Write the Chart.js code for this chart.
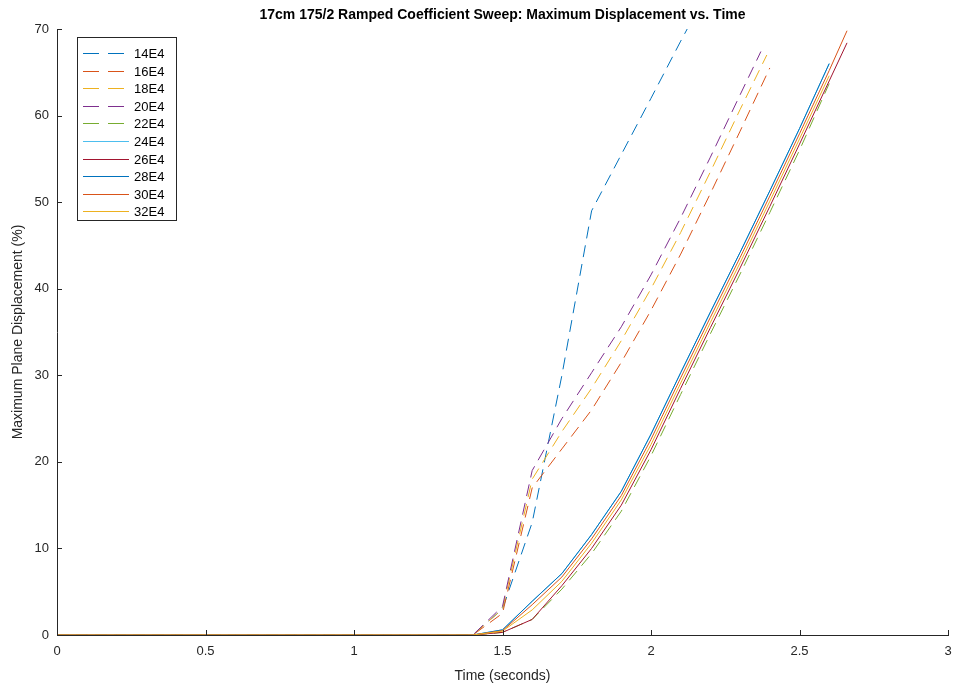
<!DOCTYPE html>
<html>
<head>
<meta charset="utf-8">
<script src="https://cdn.jsdelivr.net/npm/chart.js@4.4.1/dist/chart.umd.min.js"></script>
<style>
  html, body { margin: 0; padding: 0; background: #fff; }
  #wrap { width: 955px; height: 685px; }
</style>
</head>
<body>
<div id="wrap"><canvas id="sweep"></canvas></div>
<script>
// Time grid (seconds) and series labels
const times = [0, 0.1, 0.2, 0.3, 0.4, 0.5, 0.6, 0.7, 0.8, 0.9, 1.0, 1.1, 1.2, 1.3, 1.4,
  1.5, 1.6, 1.7, 1.8, 1.9, 2.0, 2.1, 2.2, 2.3, 2.4, 2.5, 2.6];
const labels = ['14E4', '16E4', '18E4', '20E4', '22E4', '24E4', '26E4', '28E4', '30E4', '32E4'];
const zeros = [0, 0, 0, 0, 0, 0, 0, 0, 0, 0, 0, 0, 0, 0, 0];

// Max plane displacement (%) at times[i]; last value sits at endTimes[k]
const d14 = zeros.concat([3, 13, 30, 49, 55.5, 62, 68.6, 75]);
const d16 = zeros.concat([2.5, 17, 21.5, 26, 31.5, 37.5, 44, 51, 58.2, 65.5]);
const d18 = zeros.concat([3, 18, 23.5, 28.5, 34, 40, 46.5, 53.5, 60.7, 67]);
const d20 = zeros.concat([3.3, 19, 25, 30.3, 35.6, 41.6, 48.2, 55.2, 62.4, 67.4]);
const d22 = zeros.concat([0.3, 1.8, 5.3, 9.4, 14.3, 20.7, 27.8, 34.8, 41.7, 48.8, 56.0, 63.7]);
const d24 = zeros.concat([0.6, 3.9, 7.1, 11.6, 16.6, 23.2, 30.3, 37.3, 44.2, 51.3, 58.5, 66.0]);
const d26 = zeros.concat([0.3, 1.8, 5.7, 10.0, 15.0, 21.4, 28.5, 35.5, 42.4, 49.5, 56.7, 64.0, 68.4]);
const d28 = zeros.concat([0.6, 3.9, 7.1, 11.6, 16.6, 23.2, 30.3, 37.3, 44.2, 51.3, 58.5, 66.0]);
const d30 = zeros.concat([0.5, 3.5, 6.7, 11.1, 16.1, 22.6, 29.7, 36.7, 43.6, 50.7, 57.9, 65.2, 69.8]);
const d32 = zeros.concat([0.45, 2.9, 6.2, 10.6, 15.6, 22.0, 29.1, 36.1, 43.0, 50.1, 57.3, 64.6]);
const endTimes = [2.2, 2.4, 2.39, 2.37, 2.6, 2.6, 2.66, 2.6, 2.66, 2.6];

const yTicks = [0, 10, 20, 30, 40, 50, 60, 70];
const xTicks = [0, 0.5, 1, 1.5, 2, 2.5, 3];

// MATLAB default colour order
const colors = ['#0072BD', '#D95319', '#EDB120', '#7E2F8E', '#77AC30',
  '#4DBEEE', '#A2142F', '#0072BD', '#D95319', '#EDB120'];
const dashed = [true, true, true, true, true, false, false, false, false, false];
const series = [d14, d16, d18, d20, d22, d24, d26, d28, d30, d32];

const FONT = "'Liberation Sans', Arial, Helvetica, sans-serif";
const INK = '#262626';
const DASH = [12, 7];

const datasets = series.map((vals, k) => ({
  label: labels[k],
  data: vals.map((v, i) => ({ x: i < vals.length - 1 ? times[i] : endTimes[k], y: v })),
  borderColor: colors[k],
  borderWidth: 1,
  borderDash: dashed[k] ? DASH : [],
  pointRadius: 0,
  tension: 0,
  fill: false,
  order: labels.length - k, // later series drawn on top, like MATLAB
}));

// Title, inward tick marks and the boxed legend
const matlabDecor = {
  id: 'matlabDecor',
  afterDraw(chart) {
    const { ctx, chartArea: a, scales } = chart;
    ctx.save();

    ctx.fillStyle = '#000';
    ctx.font = `bold 14px ${FONT}`;
    ctx.textAlign = 'center';
    ctx.textBaseline = 'middle';
    ctx.fillText('17cm 175/2 Ramped Coefficient Sweep: Maximum Displacement vs. Time', (a.left + a.right) / 2, 15);

    ctx.strokeStyle = INK;
    ctx.lineWidth = 1;
    ctx.beginPath();
    for (const t of yTicks) {
      const y = Math.round(scales.y.getPixelForValue(t)) + 0.5;
      ctx.moveTo(a.left, y);
      ctx.lineTo(a.left + 5, y);
    }
    for (const t of xTicks) {
      const x = Math.round(scales.x.getPixelForValue(t)) + 0.5;
      ctx.moveTo(x, a.bottom);
      ctx.lineTo(x, a.bottom - 5);
    }
    ctx.stroke();

    // legend box
    const bx = 77.5, by = 37.5, bw = 99, bh = 183, row = 17.6;
    ctx.fillStyle = '#fff';
    ctx.fillRect(bx, by, bw, bh);
    ctx.strokeStyle = '#262626';
    ctx.strokeRect(bx, by, bw, bh);
    ctx.font = `13px ${FONT}`;
    ctx.textAlign = 'left';
    labels.forEach((lab, k) => {
      const y = Math.round(by + 15.5 + k * row) + 0.5;
      ctx.strokeStyle = colors[k];
      ctx.setLineDash(dashed[k] ? [16, 9] : []);
      ctx.beginPath();
      ctx.moveTo(83, y);
      ctx.lineTo(129, y);
      ctx.stroke();
      ctx.setLineDash([]);
      ctx.fillStyle = '#000';
      ctx.fillText(lab, 134, y + 0.5);
    });
    ctx.restore();
  },
};

new Chart(document.getElementById('sweep'), {
  type: 'line',
  data: { datasets },
  options: {
    responsive: true,
    maintainAspectRatio: false,
    animation: false,
    events: [],
    layout: { padding: { top: 29, right: 7, left: 0, bottom: 0 } },
    plugins: {
      legend: { display: false },
      tooltip: { enabled: false },
      title: { display: false },
    },
    scales: {
      x: {
        type: 'linear',
        min: 0,
        max: 3,
        afterFit: (s) => { s.height = 50; s.paddingLeft = 0; s.paddingRight = 0; },
        afterBuildTicks: (s) => { s.ticks = xTicks.map(v => ({ value: v })); },
        grid: { drawOnChartArea: false, drawTicks: false },
        border: { display: true, color: INK, width: 1 },
        ticks: {
          color: INK,
          font: { family: FONT, size: 13 },
          padding: 9,
          maxRotation: 0,
          callback: (v) => String(v),
        },
        title: {
          display: true,
          text: 'Time (seconds)',
          color: INK,
          font: { family: FONT, size: 14 },
          padding: { top: 4, bottom: 0 },
        },
      },
      y: {
        min: 0,
        max: 70,
        afterFit: (s) => { s.width = 57; s.paddingTop = 0; s.paddingBottom = 0; },
        afterBuildTicks: (s) => { s.ticks = yTicks.map(v => ({ value: v })); },
        grid: { drawOnChartArea: false, drawTicks: false },
        border: { display: true, color: INK, width: 1 },
        ticks: { color: INK, font: { family: FONT, size: 13 }, padding: 8, callback: (v) => String(v) },
        title: {
          display: true,
          text: 'Maximum Plane Displacement (%)',
          color: INK,
          font: { family: FONT, size: 14 },
          padding: { top: 10, bottom: 0 },
        },
      },
    },
  },
  plugins: [matlabDecor],
});
</script>
</body>
</html>
